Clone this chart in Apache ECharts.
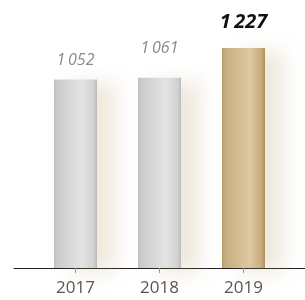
<!DOCTYPE html>
<html>
<head>
<meta charset="utf-8">
<script src="https://cdn.jsdelivr.net/npm/echarts@6/dist/echarts.min.js"></script>
<style>
  html, body { margin: 0; padding: 0; background: #fff; }
  #chart { width: 305px; height: 300px; }
</style>
</head>
<body>
<div id="chart"></div>
<script>
// data
var years = ['2017', '2018', '2019'];
var values = [1052, 1061, 1227];
var highlight = [false, false, true];

function fmt(v) {
	// thousands with a thin space
	var s = String(v);
	return s.replace(/\B(?=(\d{3})+(?!\d))/g, '\u2009');
}

var greyFill = new echarts.graphic.LinearGradient(0, 0, 1, 0, [
	{ offset: 0, color: '#bfbfbf' },
	{ offset: 0.08, color: '#cbcbcb' },
	{ offset: 0.65, color: '#e4e4e4' },
	{ offset: 0.92, color: '#d2d2d2' },
	{ offset: 1, color: '#bababa' }
]);
var goldFill = new echarts.graphic.LinearGradient(0, 0, 1, 0, [
	{ offset: 0, color: '#b99c6c' },
	{ offset: 0.08, color: '#c8ad80' },
	{ offset: 0.65, color: '#ddc9a2' },
	{ offset: 0.92, color: '#c7aa7a' },
	{ offset: 1, color: '#ad8f5e' }
]);

// label gaps as drawn in the original
var labelGap = [11, 21, 16];

var barData = values.map(function (v, i) {
	var lbl = { distance: labelGap[i] };
	if (highlight[i]) {
		lbl.fontSize = 20;
		lbl.fontWeight = 'bold';
		lbl.color = '#111';
	}
	return {
		value: v,
		itemStyle: { color: highlight[i] ? goldFill : greyFill },
		label: lbl
	};
});

var myChart = echarts.init(document.getElementById('chart'));
var option = {
	animation: false,
	grid: [
		{ left: 33.5, right: 19.5, top: 35, bottom: 32 },
		{ left: 14, right: 0, bottom: 32, height: 0 }
	],
	xAxis: [{
		type: 'category',
		gridIndex: 0,
		data: years,
		axisLine: { show: false },
		axisTick: { show: true, alignWithLabel: true, length: 5, lineStyle: { color: '#999' } },
		axisLabel: { color: '#555', fontSize: 17, fontFamily: 'Open Sans', margin: 12 }
	}, {
		type: 'value',
		gridIndex: 1,
		axisLine: { show: true, lineStyle: { color: '#222', width: 1 } },
		axisTick: { show: false },
		axisLabel: { show: false },
		splitLine: { show: false }
	}],
	yAxis: [{
		type: 'value', gridIndex: 0, min: 0, max: 1300, show: false
	}, {
		type: 'value', gridIndex: 1, show: false
	}],
	series: [{
		type: 'bar',
		data: barData,
		barWidth: 43,
		itemStyle: {
			shadowColor: 'rgba(190, 160, 110, 0.25)',
			shadowBlur: 20,
			shadowOffsetX: 18,
			shadowOffsetY: 4
		},
		label: {
			show: true,
			position: 'top',
			fontFamily: 'Open Sans',
			fontStyle: 'italic',
			fontSize: 16,
			color: '#8a8a8a',
			formatter: function (p) { return fmt(p.value); }
		}
	}]
};
myChart.setOption(option);
</script>
</body>
</html>
